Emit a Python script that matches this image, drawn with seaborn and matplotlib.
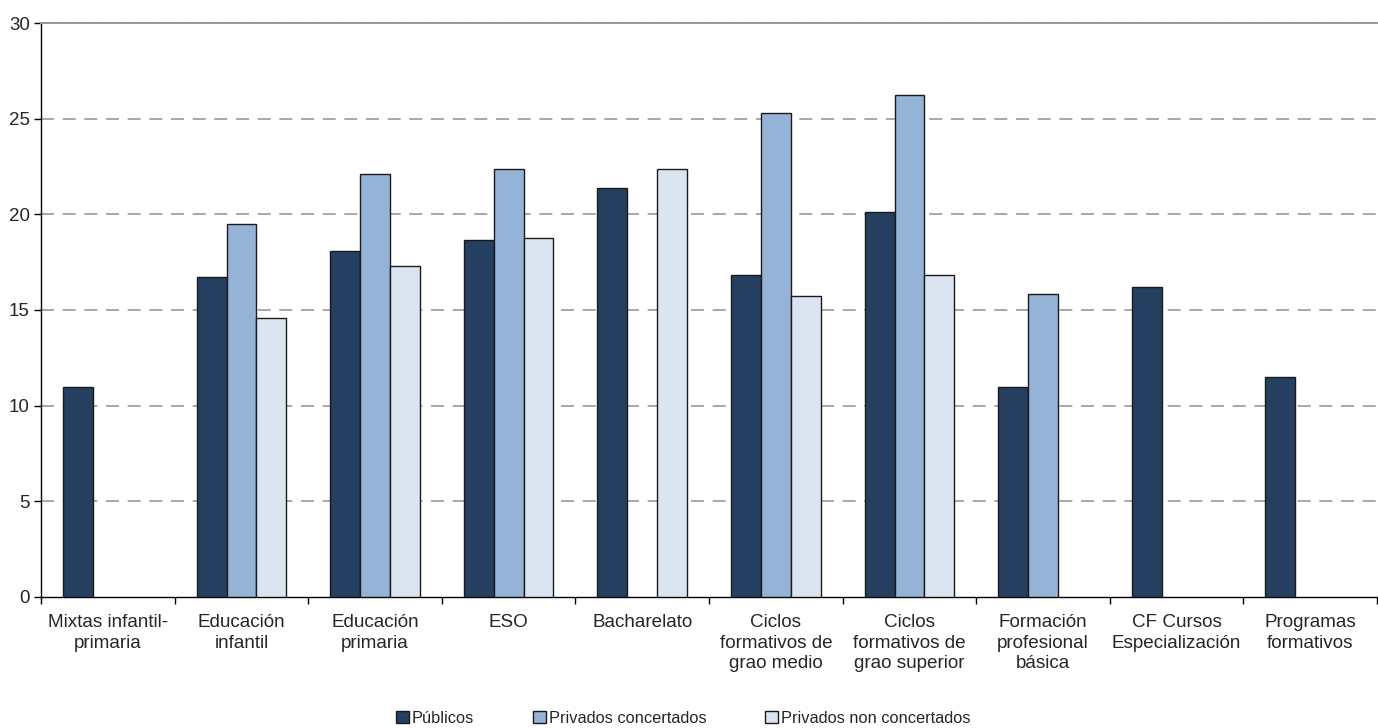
import numpy as np
import pandas as pd
import seaborn as sns
import matplotlib.pyplot as plt
from matplotlib.patches import Patch

# categories and values
categorias = ["Mixtas infantil-\nprimaria", "Educación\ninfantil", "Educación\nprimaria", "ESO",
              "Bacharelato", "Ciclos\nformativos de\ngrao medio", "Ciclos\nformativos de\ngrao superior",
              "Formación\nprofesional\nbásica", "CF Cursos\nEspecialización", "Programas\nformativos"]
publicos = [11.0, 16.75, 18.1, 18.65, 21.35, 16.85, 20.1, 11.0, 16.2, 11.5]
concertados = [np.nan, 19.5, 22.1, 22.35, np.nan, 25.3, 26.25, 15.85, np.nan, np.nan]
non_concertados = [np.nan, 14.6, 17.3, 18.75, 22.35, 15.75, 16.85, np.nan, np.nan, np.nan]
series = ["Públicos", "Privados concertados", "Privados non concertados"]
cores = ["#243F60", "#95B3D7", "#DBE5F1"]

df = pd.DataFrame({"cat": categorias * 3,
                   "serie": np.repeat(series, len(categorias)),
                   "valor": publicos + concertados + non_concertados}).dropna()

sns.set_style("white")
plt.rcParams['font.family'] = ['Liberation Sans', 'DejaVu Sans']

fig = plt.figure(figsize=(13.78, 7.28), dpi=100)
ax = fig.add_axes([0.0298, 0.18, 0.9695, 0.7884])

sns.barplot(data=df, x="cat", y="valor", hue="serie", order=categorias, hue_order=series,
            palette=cores, width=0.67, edgecolor="#1a1a1a", linewidth=1.0,
            saturation=1, errorbar=None, legend=False, ax=ax, zorder=3)

ax.set_ylim(0, 30)
ax.set_xlim(-0.5, len(categorias) - 0.5)
ax.set_yticks(range(0, 31, 5))
ax.yaxis.grid(True, linestyle=(0, (7.8, 5.2)), color="#999999", linewidth=1.2, zorder=0)
# no dashed line on top of the axis line at 0
ax.yaxis.get_gridlines()[0].set_visible(False)
ax.set_xlabel("")
ax.set_ylabel("")

# category boundaries as tick marks, labels centred
ax.set_xticks(np.arange(len(categorias)))
ax.set_xticklabels(categorias, fontsize=13.6, linespacing=1.3)
ax.set_xticks(np.arange(-0.5, len(categorias) - 0.4, 1), minor=True)
ax.tick_params(axis="x", which="major", length=0, pad=12)
ax.tick_params(axis="x", which="minor", length=5, width=1, color="black", direction="out", bottom=True)
ax.tick_params(axis="y", length=5, width=1, color="black", direction="out", left=True, labelsize=13.5, pad=3)

for s in ["left", "bottom"]:
    ax.spines[s].set_color("black")
    ax.spines[s].set_linewidth(1.0)
ax.spines["top"].set_color("#999999")
ax.spines["top"].set_linewidth(1.4)
ax.spines["right"].set_visible(False)

handles = [Patch(facecolor=c, edgecolor="#1a1a1a", linewidth=1.0) for c in cores]
fig.legend(handles, series, loc="lower center", bbox_to_anchor=(0.496, -0.017), ncol=3,
           frameon=False, fontsize=11.8, handlelength=0.75, handleheight=0.75,
           handletextpad=0.2, columnspacing=3.6)

fig.savefig("out.png", dpi=100)
